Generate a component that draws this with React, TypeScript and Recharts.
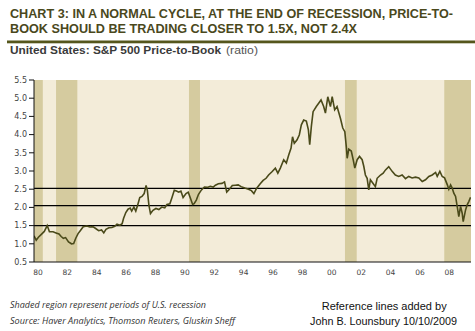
import { ComposedChart, Line, XAxis, YAxis, ReferenceArea, ReferenceLine } from 'recharts';

// decimal years
const YEARS = [
  1980.0, 1980.15, 1980.3, 1980.5, 1980.7, 1980.9, 1981.05, 1981.3, 1981.5, 1981.7, 1981.85,
  1982.0, 1982.15, 1982.35, 1982.55, 1982.7, 1982.85, 1983.0, 1983.15, 1983.35, 1983.6, 1983.8,
  1984.0, 1984.2, 1984.4, 1984.6, 1984.75, 1984.9, 1985.1, 1985.3, 1985.5, 1985.65, 1985.85,
  1986.0, 1986.1, 1986.25, 1986.4, 1986.55, 1986.65, 1986.8, 1986.93, 1987.05, 1987.2, 1987.35,
  1987.5, 1987.63, 1987.72, 1987.82, 1987.93, 1988.1, 1988.3, 1988.5, 1988.7, 1988.9, 1989.05,
  1989.25, 1989.4, 1989.55, 1989.7, 1989.85, 1990.0, 1990.15, 1990.35, 1990.5, 1990.65, 1990.8,
  1990.9, 1991.05, 1991.2, 1991.4, 1991.6, 1991.8, 1992.0, 1992.2, 1992.35, 1992.55, 1992.8,
  1992.97, 1993.12, 1993.3, 1993.5, 1993.7, 1993.9, 1994.1, 1994.35, 1994.6, 1994.8, 1994.97,
  1995.15, 1995.4, 1995.6, 1995.8, 1995.97, 1996.2, 1996.43, 1996.6, 1996.77, 1997.0, 1997.18,
  1997.34, 1997.5, 1997.6, 1997.72, 1997.9, 1998.06, 1998.2, 1998.36, 1998.54, 1998.68, 1998.77,
  1998.88, 1999.0, 1999.22, 1999.38, 1999.54, 1999.72, 1999.84, 2000.0, 2000.18, 2000.3, 2000.47,
  2000.63, 2000.86, 2001.02, 2001.16, 2001.27, 2001.32, 2001.43, 2001.6, 2001.73, 2001.84, 2002.0,
  2002.16, 2002.34, 2002.45, 2002.56, 2002.68, 2002.79, 2002.9, 2003.06, 2003.24, 2003.36, 2003.59,
  2003.77, 2003.93, 2004.15, 2004.38, 2004.6, 2004.83, 2005.06, 2005.29, 2005.51, 2005.74, 2005.97,
  2006.2, 2006.43, 2006.65, 2006.88, 2007.11, 2007.34, 2007.45, 2007.63, 2007.79, 2007.95, 2008.14,
  2008.24, 2008.36, 2008.47, 2008.58, 2008.7, 2008.81, 2008.92, 2009.04, 2009.15, 2009.22, 2009.38,
  2009.49, 2009.6, 2009.72,
];

const PRICE_TO_BOOK = [
  1.22, 1.1, 1.18, 1.26, 1.34, 1.5, 1.33, 1.33, 1.3, 1.27, 1.2,
  1.15, 1.17, 1.05, 1.0, 1.01, 1.16, 1.28, 1.36, 1.47, 1.49, 1.46,
  1.47, 1.42, 1.36, 1.38, 1.3, 1.4, 1.44, 1.45, 1.48, 1.54, 1.51,
  1.55, 1.7, 1.86, 1.95, 1.98, 1.9, 2.01, 1.9, 2.05, 2.27, 2.3,
  2.38, 2.6, 2.46, 2.07, 1.83, 1.92, 1.97, 1.94, 2.01, 1.99, 2.08,
  2.1, 2.28, 2.47, 2.45, 2.42, 2.45, 2.27, 2.38, 2.42, 2.25, 2.08,
  2.1, 2.2, 2.36, 2.48, 2.56, 2.55, 2.58, 2.56, 2.61, 2.65, 2.66,
  2.7, 2.42, 2.5, 2.6, 2.61, 2.62, 2.57, 2.53, 2.5, 2.46, 2.38,
  2.52, 2.65, 2.74, 2.8, 2.89, 2.98, 3.08, 2.94, 3.08, 3.31, 3.22,
  3.44, 3.63, 3.94, 3.76, 3.85, 3.99, 4.27, 4.4, 4.37, 4.13, 3.72,
  4.22, 4.63, 4.77, 4.86, 4.95, 4.77, 4.59, 5.04, 4.77, 5.04, 4.68,
  4.77, 4.45, 4.18, 4.08, 3.63, 3.35, 3.6, 3.55, 3.31, 3.08, 3.31,
  3.4, 3.31, 3.13, 2.89, 2.8, 2.48, 2.76, 2.67, 2.57, 2.8, 2.89,
  2.94, 3.03, 3.12, 2.99, 2.89, 2.85, 2.89, 2.79, 2.85, 2.81, 2.83,
  2.81, 2.71, 2.76, 2.85, 2.89, 2.96, 2.85, 2.99, 2.85, 2.81, 2.62,
  2.5, 2.62, 2.53, 2.39, 2.3, 2.03, 1.75, 2.03, 1.84, 1.61, 1.93,
  2.07, 2.16, 2.28,
];

const RECESSION_START = [1980.0, 1981.5, 1990.55, 2001.17, 2007.93];
const RECESSION_END = [1980.6, 1982.95, 1991.3, 2001.97, 2009.75];

const REFERENCE_LEVELS = [2.52, 2.05, 1.5];

const X_TICKS = [1980, 1982, 1984, 1986, 1988, 1990, 1992, 1994, 1996, 1998, 2000, 2002, 2004, 2006, 2008];
const Y_TICKS = [0.5, 1.0, 1.5, 2.0, 2.5, 3.0, 3.5, 4.0, 4.5, 5.0, 5.5];

const X_START = 1980;
const X_END = 2009.75;

const data = YEARS.map((t, i) => ({ t, pb: PRICE_TO_BOOK[i] }));

function XTick({ x, y, payload }: any) {
  return (
    <text x={x + 4} y={y} dy="0.71em" textAnchor="middle" fontSize={7.5} fill="#444" fontFamily="DejaVu Sans">
      {String(payload.value).slice(2)}
    </text>
  );
}

export default function App() {
  return (
    <div style={{ position: 'relative', width: 475, height: 331, background: '#fff' }}>
      <style>{'body{margin:0}'}</style>
      <ComposedChart width={475} height={331} data={data} margin={{ top: 80, right: 4, bottom: 53, left: 8 }}>
        <XAxis
          type="number"
          dataKey="t"
          domain={[X_START, X_END]}
          ticks={X_TICKS}
          interval={0}
          height={16}
          tickLine={false}
          axisLine={{ stroke: '#111' }}
          tick={<XTick />}
          allowDataOverflow
        />
        <YAxis
          domain={[0.5, 5.5]}
          ticks={Y_TICKS}
          interval={0}
          width={26}
          tickSize={5}
          tickLine={{ stroke: '#111' }}
          axisLine={{ stroke: '#111' }}
          tick={{ fontSize: 8, fill: '#444', fontFamily: 'DejaVu Sans' }}
          tickFormatter={(v: number) => v.toFixed(1)}
          allowDataOverflow
        />
        <ReferenceArea x1={X_START} x2={X_END} fill="#f3ecd9" fillOpacity={1} stroke="none" />
        {RECESSION_START.map((s, i) => (
          <ReferenceArea key={s} x1={s} x2={RECESSION_END[i]} fill="#d5cb9f" fillOpacity={1} stroke="none" />
        ))}
        {REFERENCE_LEVELS.map((v) => (
          <ReferenceLine key={v} y={v} stroke="#000" strokeWidth={1.3} />
        ))}
        <Line
          type="linear"
          dataKey="pb"
          stroke="#4a4a1a"
          strokeWidth={1.6}
          dot={false}
          isAnimationActive={false}
        />
      </ComposedChart>
      <svg width={475} height={331} style={{ position: 'absolute', left: 0, top: 0, pointerEvents: 'none' }}>
        <g fontFamily="Liberation Sans" fontWeight="bold" fontSize={13} fill="#4a481c">
          <text x={10} y={18.3} textLength={443} lengthAdjust="spacingAndGlyphs">
            CHART 3: IN A NORMAL CYCLE, AT THE END OF RECESSION, PRICE-TO-
          </text>
          <text x={10} y={33.3} textLength={347} lengthAdjust="spacingAndGlyphs">
            BOOK SHOULD BE TRADING CLOSER TO 1.5X, NOT 2.4X
          </text>
        </g>
        <rect x={7} y={40.5} width={468} height={2.8} fill="#55561c" />
        <text x={10} y={54} fontFamily="Liberation Sans" fontWeight="bold" fontSize={10} fill="#3a3a3a" textLength={211} lengthAdjust="spacingAndGlyphs">
          United States: S&amp;P 500 Price-to-Book
        </text>
        <text x={226} y={54} fontFamily="Liberation Sans" fontSize={10} fill="#555" textLength={32} lengthAdjust="spacingAndGlyphs">
          (ratio)
        </text>
        <g fontFamily="Open Sans" fontStyle="italic" fontSize={8.5} fill="#333">
          <text x={10} y={307.5} textLength={196} lengthAdjust="spacingAndGlyphs">
            Shaded region represent periods of U.S. recession
          </text>
          <text x={10} y={323.5} textLength={225} lengthAdjust="spacingAndGlyphs">
            Source: Haver Analytics, Thomson Reuters, Gluskin Sheff
          </text>
        </g>
        <g fontFamily="Liberation Sans" fontSize={11} fill="#111">
          <text x={321.7} y={309.5} textLength={125} lengthAdjust="spacingAndGlyphs">
            Reference lines added by
          </text>
          <text x={310} y={325} textLength={147} lengthAdjust="spacingAndGlyphs">
            John B. Lounsbury 10/10/2009
          </text>
        </g>
      </svg>
    </div>
  );
}
